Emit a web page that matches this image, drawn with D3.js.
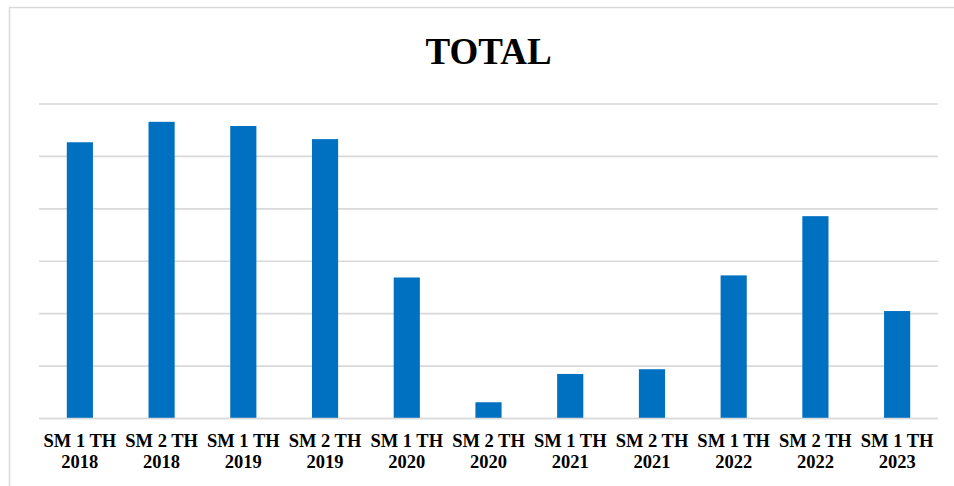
<!DOCTYPE html>
<html>
<head>
<meta charset="utf-8">
<script src="https://cdn.jsdelivr.net/npm/d3@7"></script>
<style>
  html, body { margin: 0; padding: 0; background: #fff; }
  svg { display: block; }
</style>
</head>
<body>
<svg id="chart" width="954" height="486"></svg>
<script>
// Semester periods and their totals
const categories = [
  ["SM 1 TH", "2018"], ["SM 2 TH", "2018"], ["SM 1 TH", "2019"], ["SM 2 TH", "2019"],
  ["SM 1 TH", "2020"], ["SM 2 TH", "2020"], ["SM 1 TH", "2021"], ["SM 2 TH", "2021"],
  ["SM 1 TH", "2022"], ["SM 2 TH", "2022"], ["SM 1 TH", "2023"]
];
const totals = [52.7, 56.6, 55.8, 53.3, 26.9, 3.1, 8.5, 9.4, 27.3, 38.6, 20.5];
const gridTicks = [0, 10, 20, 30, 40, 50, 60];
const title = "TOTAL";

const svg = d3.select("#chart");
const W = 954, H = 486;
const plot = { left: 39, right: 938, top: 104, bottom: 418.5 };
const serif = "'Liberation Serif', 'Times New Roman', serif";

// Chart frame (extends past the right and bottom edges)
svg.append("rect")
  .attr("x", 9.5).attr("y", 7.5)
  .attr("width", W + 20).attr("height", H + 20)
  .attr("fill", "#fff")
  .attr("stroke", "#d9d9d9").attr("stroke-width", 1.5);

const x = d3.scaleBand()
  .domain(d3.range(categories.length))
  .range([plot.left, plot.right])
  .paddingInner(0.68).paddingOuter(0.34);

const y = d3.scaleLinear()
  .domain([0, 60])
  .range([plot.bottom, plot.top]);

// Horizontal gridlines
svg.append("g")
  .selectAll("line")
  .data(gridTicks)
  .join("line")
  .attr("x1", plot.left).attr("x2", plot.right)
  .attr("y1", d => y(d)).attr("y2", d => y(d))
  .attr("stroke", "#d9d9d9").attr("stroke-width", 1.6);

// Bars
svg.append("g")
  .selectAll("rect")
  .data(totals)
  .join("rect")
  .attr("x", (d, i) => x(i))
  .attr("width", x.bandwidth())
  .attr("y", d => y(d))
  .attr("height", d => y(0) - y(d))
  .attr("fill", "#0070C0");

// Baseline drawn over the bars
svg.append("line")
  .attr("x1", plot.left).attr("x2", plot.right)
  .attr("y1", y(0)).attr("y2", y(0))
  .attr("stroke", "#d9d9d9").attr("stroke-width", 1.6);

// Two-line category labels
const labels = svg.append("g")
  .attr("font-family", serif)
  .attr("font-weight", "bold")
  .attr("font-size", 18.5)
  .attr("fill", "#000")
  .attr("text-anchor", "middle");

categories.forEach((c, i) => {
  const cx = x(i) + x.bandwidth() / 2;
  const t = labels.append("text").attr("x", cx).attr("y", 446.5);
  t.append("tspan").attr("x", cx).attr("y", 446.5).text(c[0]);
  t.append("tspan").attr("x", cx).attr("y", 468).text(c[1]);
});

// Title
svg.append("text")
  .attr("x", (plot.left + plot.right) / 2)
  .attr("y", 63.5)
  .attr("text-anchor", "middle")
  .attr("font-family", serif)
  .attr("font-weight", "bold")
  .attr("font-size", 37)
  .attr("fill", "#000")
  .text(title);
</script>
</body>
</html>
